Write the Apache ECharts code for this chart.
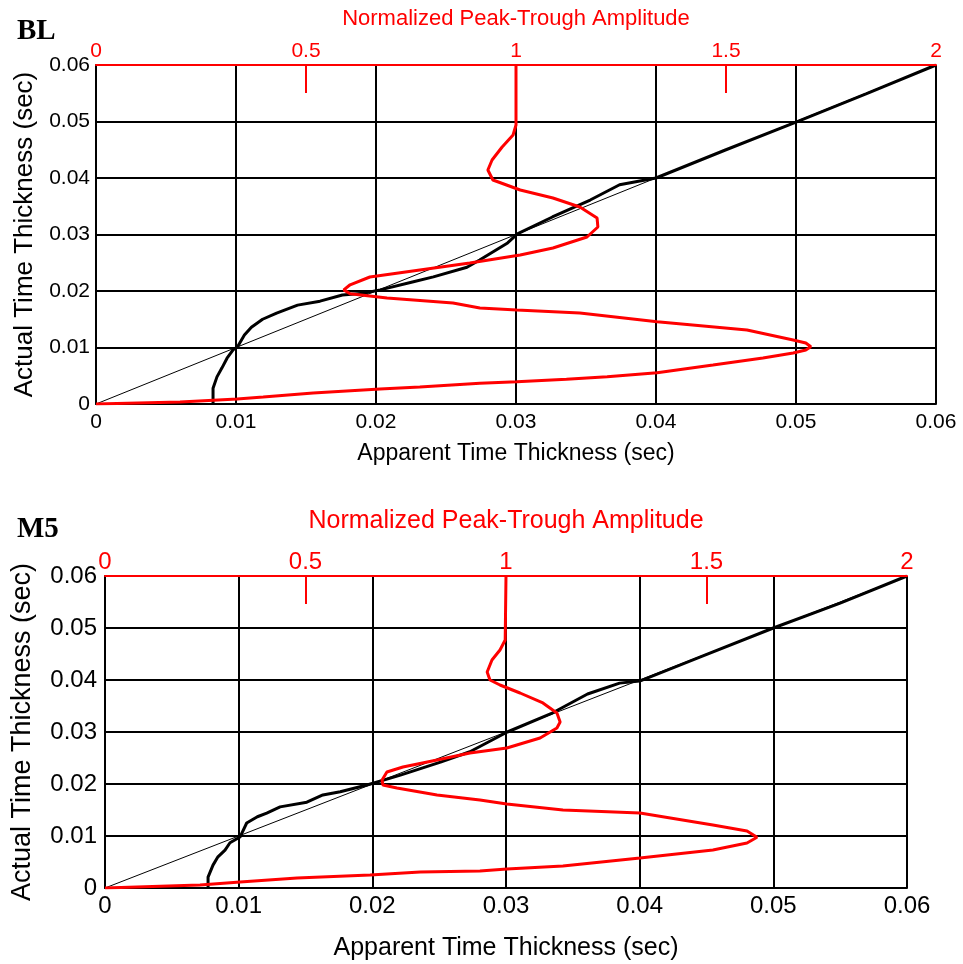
<!DOCTYPE html>
<html>
<head>
<meta charset="utf-8">
<script src="https://cdn.jsdelivr.net/npm/echarts@6/dist/echarts.min.js"></script>
<style>
html,body{margin:0;padding:0;background:#fff;}
#chart{width:963px;height:964px;}
</style>
</head>
<body>
<div id="chart"></div>
<script>
// ---- Data ----
const panelLabels = ['BL', 'M5'];
const apparentTicks = [0, 0.01, 0.02, 0.03, 0.04, 0.05, 0.06];
const amplitudeTicks = [0, 0.5, 1, 1.5, 2];
const diagonalX = [0, 0.06];
const diagonalY = [0, 0.06];

// BL panel
const blBlackApparent = [0.00836, 0.00836, 0.00864, 0.0090, 0.00936, 0.00979, 0.0101, 0.0106, 0.0111, 0.0119, 0.0129, 0.0144, 0.0160, 0.0176, 0.0191, 0.0203, 0.0226, 0.0241, 0.0265, 0.0274, 0.0294, 0.0301, 0.0326, 0.0353, 0.0374, 0.0400, 0.0450, 0.0500, 0.0550, 0.0600];
const blBlackActual   = [0.0000, 0.0028, 0.0048, 0.0064, 0.0081, 0.0096, 0.0101, 0.0122, 0.0136, 0.0150, 0.0161, 0.0175, 0.0182, 0.0193, 0.0196, 0.0202, 0.0216, 0.0225, 0.0242, 0.0255, 0.0285, 0.0301, 0.0331, 0.0361, 0.0388, 0.0400, 0.0450, 0.0499, 0.0549, 0.0600];
const blRedAmplitude = [0, 0.2, 0.336, 0.398, 0.517, 0.676, 0.771, 0.914, 1.002, 1.12, 1.217, 1.336, 1.469, 1.588, 1.66, 1.69, 1.702, 1.69, 1.66, 1.55, 1.336, 1.152, 1.002, 0.914, 0.85, 0.693, 0.605, 0.59, 0.605, 0.652, 0.771, 0.89, 1.01, 1.088, 1.169, 1.195, 1.193, 1.152, 1.088, 1.01, 0.945, 0.933, 0.943, 0.967, 0.993, 1.0, 1.0];
const blRedActual    = [0, 0.00035, 0.00088, 0.00124, 0.00195, 0.00265, 0.00301, 0.00366, 0.00395, 0.0044, 0.00483, 0.00554, 0.0069, 0.00814, 0.00903, 0.00956, 0.01014, 0.0108, 0.01133, 0.0131, 0.01457, 0.01611, 0.01664, 0.01699, 0.01788, 0.01876, 0.0195, 0.0202, 0.0211, 0.02248, 0.02372, 0.02496, 0.02637, 0.02761, 0.02956, 0.03133, 0.03292, 0.03487, 0.03646, 0.03788, 0.03965, 0.04142, 0.04319, 0.04549, 0.04761, 0.04938, 0.06];

// M5 panel
const m5BlackApparent = [0.00771, 0.00771, 0.00808, 0.00845, 0.00898, 0.00935, 0.0101, 0.0106, 0.0114, 0.0121, 0.0131, 0.0151, 0.0163, 0.0176, 0.0196, 0.0221, 0.0251, 0.0273, 0.0301, 0.0335, 0.0361, 0.0385, 0.0400, 0.0445, 0.0500, 0.0550, 0.0600];
const m5BlackActual   = [0.0002, 0.0021, 0.0044, 0.0060, 0.0073, 0.0087, 0.0098, 0.0125, 0.0137, 0.0144, 0.0156, 0.0165, 0.0179, 0.0185, 0.0198, 0.0217, 0.0242, 0.0262, 0.0300, 0.0337, 0.0373, 0.0394, 0.0398, 0.0444, 0.0500, 0.0548, 0.0600];
const m5RedAmplitude = [0, 0.237, 0.337, 0.479, 0.661, 0.786, 0.935, 1.002, 1.142, 1.334, 1.516, 1.601, 1.626, 1.601, 1.516, 1.334, 1.142, 1.002, 0.935, 0.828, 0.728, 0.693, 0.691, 0.703, 0.743, 0.828, 0.91, 1.002, 1.085, 1.127, 1.135, 1.127, 1.092, 1.035, 0.985, 0.96, 0.953, 0.965, 0.985, 0.998, 1.0];
const m5RedActual    = [0, 0.00058, 0.00115, 0.00192, 0.0025, 0.00308, 0.00327, 0.00365, 0.00423, 0.00577, 0.00731, 0.00865, 0.00975, 0.01096, 0.01212, 0.01442, 0.015, 0.01615, 0.01692, 0.01788, 0.01923, 0.01981, 0.02077, 0.02231, 0.02327, 0.02462, 0.02596, 0.02692, 0.02885, 0.03077, 0.03192, 0.03365, 0.03558, 0.0375, 0.03904, 0.04, 0.04154, 0.04385, 0.04577, 0.04769, 0.06];

// ---- helpers ----
function zip(xs, ys) { return xs.map((x, i) => [x, ys[i]]); }
const FONT = '"Liberation Sans", Arial, sans-serif';
const RED = '#ff0000';

const panels = [
  { grid: { left: 96, top: 65, width: 840, height: 339 },
    tick: 21, xname: 23, yname: 26, title: 22,
    xMargin: 8, yMargin: 6, xNameGap: 38, yNameGap: 57, tNameGap: 35, tMargin: 3,
    black: zip(blBlackApparent, blBlackActual), red: zip(blRedAmplitude, blRedActual) },
  { grid: { left: 105, top: 576, width: 802, height: 312 },
    tick: 24, xname: 25, yname: 27, title: 25,
    xMargin: 6, yMargin: 8, xNameGap: 48, yNameGap: 69, tNameGap: 42, tMargin: 2,
    black: zip(m5BlackApparent, m5BlackActual), red: zip(m5RedAmplitude, m5RedActual) }
];

const option = { animation: false, grid: [], xAxis: [], yAxis: [], series: [], graphic: [] };

panels.forEach((p, i) => {
  option.grid.push(p.grid);
  option.xAxis.push({
    type: 'value', gridIndex: i, position: 'bottom',
    min: apparentTicks[0], max: apparentTicks[apparentTicks.length - 1], interval: 0.01,
    axisLine: { onZero: false, lineStyle: { color: '#000', width: 2 } },
    axisTick: { show: false },
    axisLabel: { fontSize: p.tick, color: '#000', fontFamily: FONT, margin: p.xMargin },
    splitLine: { show: true, lineStyle: { color: '#000', width: 2 } },
    name: 'Apparent Time Thickness (sec)', nameLocation: 'middle', nameGap: p.xNameGap,
    nameTextStyle: { fontSize: p.xname, color: '#000', fontFamily: FONT }
  });
  option.xAxis.push({
    type: 'value', gridIndex: i, position: 'top', z: 5,
    min: amplitudeTicks[0], max: amplitudeTicks[amplitudeTicks.length - 1], interval: 0.5,
    axisLine: { onZero: false, lineStyle: { color: RED, width: 2 } },
    axisTick: { show: true, inside: true, length: 28, customValues: [0.5, 1.5], lineStyle: { color: RED, width: 2 } },
    axisLabel: { fontSize: p.tick, color: RED, fontFamily: FONT, margin: p.tMargin },
    splitLine: { show: false },
    name: 'Normalized Peak-Trough Amplitude', nameLocation: 'middle', nameGap: p.tNameGap,
    nameTextStyle: { fontSize: p.title, color: RED, fontFamily: FONT }
  });
  option.yAxis.push({
    type: 'value', gridIndex: i, position: 'left',
    min: apparentTicks[0], max: apparentTicks[apparentTicks.length - 1], interval: 0.01,
    axisLine: { show: true, onZero: false, lineStyle: { color: '#000', width: 2 } },
    axisTick: { show: false },
    axisLabel: { fontSize: p.tick, color: '#000', fontFamily: FONT, margin: p.yMargin },
    splitLine: { show: true, lineStyle: { color: '#000', width: 2 } },
    name: 'Actual Time Thickness (sec)', nameLocation: 'middle', nameGap: p.yNameGap,
    nameTextStyle: { fontSize: p.yname, color: '#000', fontFamily: FONT }
  });
  option.series.push({
    type: 'line', xAxisIndex: 2 * i, yAxisIndex: i, data: zip(diagonalX, diagonalY),
    showSymbol: false, symbol: 'none', lineStyle: { color: '#000', width: 1 }, z: 3
  });
  option.series.push({
    type: 'line', xAxisIndex: 2 * i, yAxisIndex: i, data: p.black,
    showSymbol: false, symbol: 'none', lineStyle: { color: '#000', width: 3 }, z: 4
  });
  option.series.push({
    type: 'line', xAxisIndex: 2 * i + 1, yAxisIndex: i, data: p.red,
    showSymbol: false, symbol: 'none', lineStyle: { color: RED, width: 3 }, z: 4
  });
});

option.graphic = [
  { type: 'text', left: 17, top: 17, style: { text: panelLabels[0], font: 'bold 29px "Liberation Serif", "Times New Roman", serif', fill: '#000' } },
  { type: 'text', left: 17, top: 515, style: { text: panelLabels[1], font: 'bold 29px "Liberation Serif", "Times New Roman", serif', fill: '#000' } }
];

const chart = echarts.init(document.getElementById('chart'), null, { renderer: 'canvas' });
chart.setOption(option);
</script>
</body>
</html>
